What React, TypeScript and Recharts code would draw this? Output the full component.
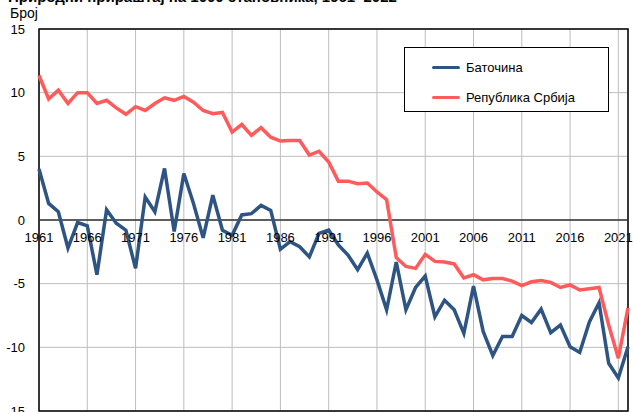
import React from "react";
import {
  LineChart,
  Line,
  XAxis,
  YAxis,
  CartesianGrid,
  ReferenceLine,
  ReferenceArea,
} from "recharts";

const years = [
  1961, 1962, 1963, 1964, 1965, 1966, 1967, 1968, 1969, 1970, 1971, 1972, 1973,
  1974, 1975, 1976, 1977, 1978, 1979, 1980, 1981, 1982, 1983, 1984, 1985, 1986,
  1987, 1988, 1989, 1990, 1991, 1992, 1993, 1994, 1995, 1996, 1997, 1998, 1999,
  2000, 2001, 2002, 2003, 2004, 2005, 2006, 2007, 2008, 2009, 2010, 2011, 2012,
  2013, 2014, 2015, 2016, 2017, 2018, 2019, 2020, 2021, 2022,
];

const batocina = [
  4.0, 1.3, 0.65, -2.2, -0.2, -0.45, -4.3, 0.8, -0.25, -0.8, -3.8, 1.8, 0.65,
  4.05, -0.9, 3.65, 1.3, -1.4, 1.95, -0.8, -1.2, 0.4, 0.5, 1.15, 0.75, -2.3,
  -1.7, -2.1, -2.9, -1.05, -0.8, -1.95, -2.75, -3.9, -2.6, -4.7, -7.05, -3.3,
  -7.05, -5.3, -4.4, -7.6, -6.3, -7.05, -8.9, -5.2, -8.75, -10.65, -9.15, -9.15,
  -7.5, -8.05, -7.0, -8.85, -8.25, -9.95, -10.4, -8.0, -6.5, -11.25, -12.4,
  -9.95,
];

const srbija = [
  11.35, 9.5, 10.2, 9.15, 10.0, 10.0, 9.15, 9.4, 8.8, 8.3, 8.9, 8.6, 9.15, 9.6,
  9.4, 9.7, 9.25, 8.6, 8.35, 8.45, 6.9, 7.5, 6.65, 7.25, 6.5, 6.2, 6.25, 6.25,
  5.1, 5.4, 4.55, 3.05, 3.05, 2.85, 2.9, 2.2, 1.6, -2.95, -3.65, -3.8, -2.7,
  -3.25, -3.3, -3.45, -4.55, -4.3, -4.7, -4.6, -4.6, -4.8, -5.15, -4.85, -4.75,
  -4.9, -5.3, -5.1, -5.5, -5.4, -5.3, -8.25, -10.85, -6.9,
];

const xTicks = [1961, 1966, 1971, 1976, 1981, 1986, 1991, 1996, 2001, 2006, 2011, 2016, 2021];
const yTicks = [-15, -10, -5, 0, 5, 10, 15];

const seriesNames = ["Баточина", "Република Србија"];
const seriesColors = ["#2E5483", "#FF5B5B"];

const data = years.map((year, i) => ({
  year,
  batocina: batocina[i],
  srbija: srbija[i],
}));

const W = 633;
const H = 412;
const M = { top: 29, right: 5, bottom: 0, left: 0 };
const AXIS_H = 1;
const zeroY = M.top + (H - M.top - M.bottom - AXIS_H) / 2;
const font = "'Liberation Sans', Arial, sans-serif";

const XTick = (props: any) => {
  const { x, payload } = props;
  return (
    <text x={x} y={zeroY + 22} textAnchor="middle" fontSize={13} fontFamily={font} fill="#000">
      {payload.value}
    </text>
  );
};

const LegendBox = () => (
  <div
    style={{
      position: "absolute",
      left: 404,
      top: 47,
      width: 203,
      height: 63,
      border: "1px solid #000",
      background: "#fff",
      fontFamily: font,
      fontSize: 13,
      color: "#000",
    }}
  >
    {seriesNames.map((name, i) => (
      <div key={name} style={{ display: "flex", alignItems: "center", height: 20, marginTop: i === 0 ? 9 : 10 }}>
        <div style={{ width: 28, height: 3, background: seriesColors[i], marginLeft: 27, marginRight: 6, borderRadius: 2 }} />
        <span>{name}</span>
      </div>
    ))}
  </div>
);

export default function App() {
  return (
    <div style={{ position: "absolute", left: 0, top: 0, width: W, height: H, overflow: "hidden", background: "#fff" }}>
      <LineChart width={W} height={H} data={data} margin={M}>
        <CartesianGrid stroke="#bdbdbd" strokeWidth={1} />
        <XAxis
          dataKey="year"
          type="number"
          domain={[1961, 2022]}
          ticks={xTicks}
          interval={0}
          height={AXIS_H}
          axisLine={false}
          tickLine={false}
          tick={<XTick />}
        />
        <YAxis
          type="number"
          domain={[-15, 15]}
          ticks={yTicks}
          interval={0}
          width={39}
          axisLine={false}
          tickLine={false}
          tickMargin={8}
          tick={{ fontSize: 13, fontFamily: font, fill: "#000" }}
        />
        <ReferenceArea x1={1961} x2={2022} y1={-15} y2={15} fill="none" stroke="#000" strokeWidth={1.5} />
        <ReferenceLine y={0} stroke="#333" strokeWidth={1.5} />
        <Line
          type="linear"
          dataKey="batocina"
          name={seriesNames[0]}
          stroke={seriesColors[0]}
          strokeWidth={3.5}
          dot={false}
          isAnimationActive={false}
        />
        <Line
          type="linear"
          dataKey="srbija"
          name={seriesNames[1]}
          stroke={seriesColors[1]}
          strokeWidth={3.5}
          dot={false}
          isAnimationActive={false}
        />
      </LineChart>
      <LegendBox />
      <div
        style={{
          position: "absolute",
          left: 8,
          top: -12,
          fontFamily: font,
          fontWeight: "bold",
          fontSize: 15,
          lineHeight: "18px",
          whiteSpace: "nowrap",
        }}
      >
        Природни прираштај на 1000 становника, 1961–2022
      </div>
      <div
        style={{
          position: "absolute",
          left: 10,
          top: 5,
          fontFamily: font,
          fontSize: 14,
          lineHeight: "16px",
        }}
      >
        Број
      </div>
    </div>
  );
}
